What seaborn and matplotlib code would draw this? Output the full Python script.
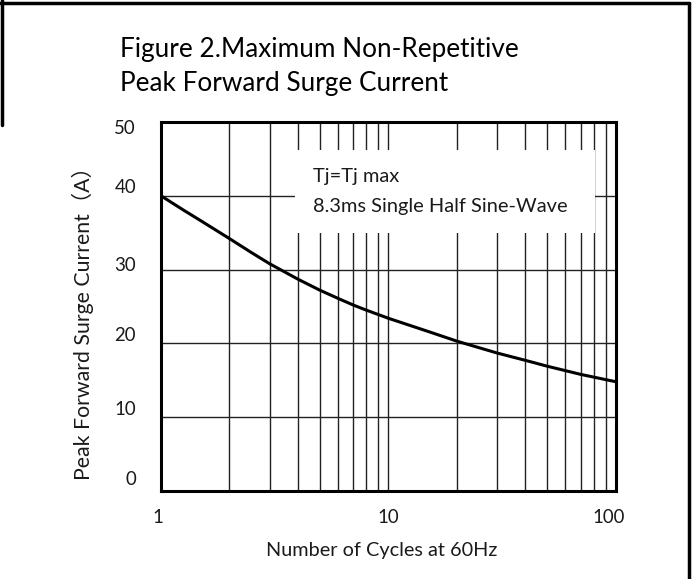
import matplotlib
matplotlib.use("Agg")
import matplotlib.pyplot as plt
import matplotlib.transforms as mtransforms
from matplotlib.patches import Rectangle
from matplotlib.lines import Line2D
import seaborn as sns

# ==============================================================
# DATA
# ==============================================================
cycles = [1, 1.25, 1.5, 2, 2.5, 3, 4, 5, 6, 7, 8, 10, 15, 20, 30, 40, 50, 70, 100]
surge_current = [40.0, 38.1, 36.6, 34.2, 32.3, 30.8, 28.7, 27.2, 26.1, 25.2, 24.5,
                 23.4, 21.6, 20.3, 18.7, 17.7, 16.9, 15.8, 14.8]

y_ticks = [0, 10, 20, 30, 40, 50]
x_ticks = [1, 10, 100]
x_tick_labels = ["1", "10", "100"]

title_lines = ["Figure 2.Maximum Non-Repetitive", "Peak Forward Surge Current"]
note_lines = ["Tj=Tj max", "8.3ms Single Half Sine-Wave"]

# ==============================================================
# STYLE
# ==============================================================
sns.set_style("white")
plt.rcParams["font.family"] = ["Lato", "Noto Sans CJK SC", "DejaVu Sans"]
TXT = "#1a1a1a"

fig = plt.figure(figsize=(6.96, 5.79), dpi=100)
ax = fig.add_axes([0.2313, 0.152, 0.6537, 0.6373])

sns.lineplot(x=cycles, y=surge_current, color="black", linewidth=2.2, ax=ax, zorder=3)

ax.set_xscale("log")
ax.set_xlim(1, 100)
ax.set_ylim(0, 50)
ax.set_xticks(x_ticks)
ax.set_xticklabels(x_tick_labels)
ax.set_yticks(y_ticks)
ax.tick_params(axis="both", length=0, labelsize=13.4, labelcolor=TXT)
ax.tick_params(axis="y", pad=18)
ax.tick_params(axis="x", pad=13)

# grid (major + minor on log axis)
ax.set_axisbelow(True)
ax.grid(True, which="major", color="#222222", linewidth=1.0)
ax.grid(True, which="minor", axis="x", color="#222222", linewidth=1.0)
ax.tick_params(which="minor", length=0)

for s in ax.spines.values():
    s.set_visible(True)
    s.set_color("black")
    s.set_linewidth(2.2)

# nudge tick labels like the original sheet
y_shift_px = [13, 9, 9, 6, 10, -5]
for lab, dy in zip(ax.get_yticklabels(), y_shift_px):
    off = mtransforms.ScaledTranslation(0, dy / 100, fig.dpi_scale_trans)
    lab.set_transform(lab.get_transform() + off)
x_shift_px = [-3, 0, -7]
for lab, dx in zip(ax.get_xticklabels(), x_shift_px):
    off = mtransforms.ScaledTranslation(dx / 100, 0, fig.dpi_scale_trans)
    lab.set_transform(lab.get_transform() + off)

# white note box covering the grid
ax.add_patch(Rectangle((0.2945, 0.699), 0.66, 0.225, transform=ax.transAxes,
                       facecolor="white", edgecolor="none", zorder=1))
ax.text(0.334, 0.851, note_lines[0], transform=ax.transAxes, fontsize=14.4,
        color=TXT, va="center", ha="left", zorder=4)
ax.text(0.334, 0.770, note_lines[1], transform=ax.transAxes, fontsize=14.4,
        color=TXT, va="center", ha="left", zorder=4)

ax.set_xlabel("Number of Cycles at 60Hz", fontsize=14.3, color=TXT, va="center")
ax.xaxis.set_label_coords(0.486, -0.16)
ax.set_ylabel("Peak Forward Surge Current（A）", fontsize=15.3, color=TXT, va="center")
ax.yaxis.set_label_coords(-0.171, 0.469)

fig.text(120 / 696, 1 - 50 / 579, title_lines[0], fontsize=18.8, color="black", va="center", ha="left")
fig.text(120 / 696, 1 - 83 / 579, title_lines[1], fontsize=18.8, color="black", va="center", ha="left")

# outer frame (partial, as in the screenshot)
frame_kw = dict(color="black", linewidth=2.5, transform=fig.transFigure)
fig.add_artist(Line2D([0.0, 689 / 696], [1 - 3 / 579, 1 - 3 / 579], **frame_kw))
fig.add_artist(Line2D([689 / 696, 689 / 696], [1 - 3 / 579, 0.0], **frame_kw))
fig.add_artist(Line2D([2 / 696, 2 / 696], [1.0, 1 - 125 / 579], **frame_kw))

fig.savefig("out.png", dpi=100)
